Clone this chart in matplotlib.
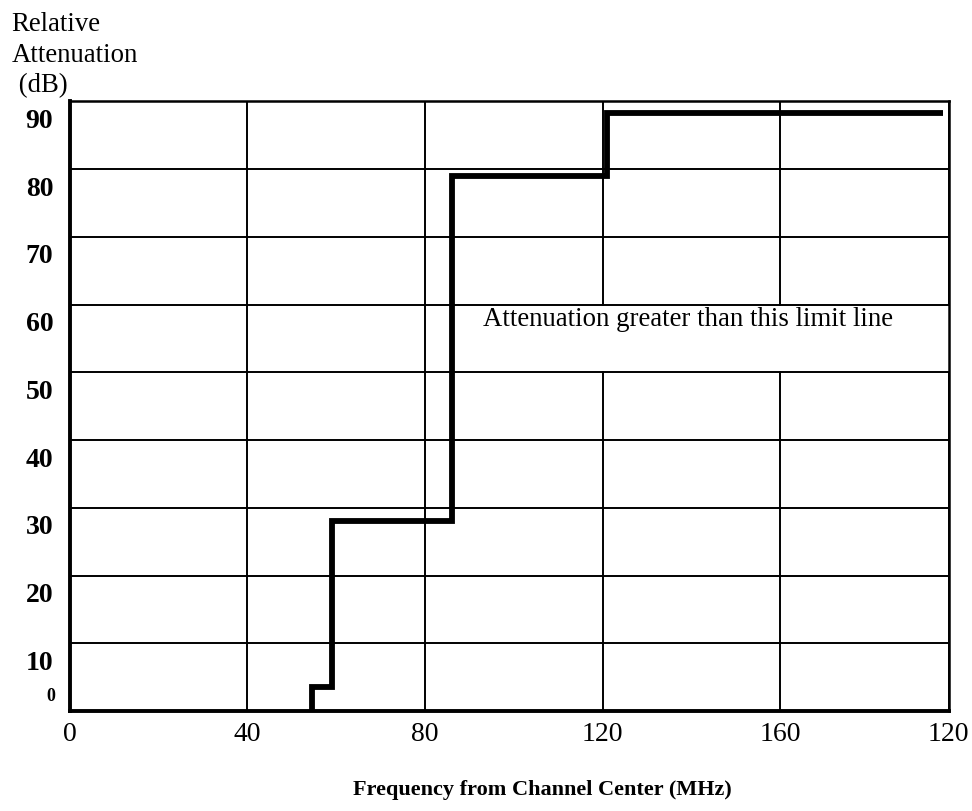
import matplotlib
matplotlib.use('Agg')
import matplotlib.pyplot as plt
import matplotlib.transforms as mtransforms

# step limit line (frequency in MHz, attenuation in dB)
freq = [54.6, 54.6, 59.1, 86.0, 121.0, 196.7]
atten = [0.0, 3.5, 28.0, 79.0, 88.3, 88.3]

x_ticks = [0, 40, 80, 120, 160, 198]
x_labels = ['0', '40', '80', '120', '160', '120']
y_ticks = [10, 20, 30, 40, 50, 60, 70, 80, 90]

plt.rcParams['font.family'] = ['Liberation Serif', 'DejaVu Serif']

fig = plt.figure(figsize=(9.72, 8.12), dpi=100)
ax = fig.add_axes([0.072, 0.123, 0.904, 0.751])

ax.plot(freq, atten, drawstyle='steps-post', color='black', lw=4.2,
        solid_joinstyle='miter', solid_capstyle='butt', zorder=3)

# white band behind the note hides the vertical grid lines there
ax.fill_between([86.5, 198], 50.25, 59.75, color='white', lw=0, zorder=2)

ax.set_xlim(0, 198)
ax.set_ylim(0, 90)
ax.set_xticks(x_ticks)
ax.set_xticklabels(x_labels, fontsize=20)
ax.set_yticks(y_ticks)
ax.set_yticklabels([str(v) for v in y_ticks], fontsize=20, fontweight='bold')
ax.tick_params(length=0)
ax.tick_params(axis='x', pad=7)
ax.tick_params(axis='y', pad=12)
ax.grid(True, color='black', lw=1.4)

# y labels sit a little below their grid lines in the original
shift = mtransforms.ScaledTranslation(0, -0.16, fig.dpi_scale_trans)
for lab in ax.get_yticklabels():
    lab.set_transform(lab.get_transform() + shift)

for side in ['top', 'right']:
    ax.spines[side].set_linewidth(1.8)
for side in ['bottom', 'left']:
    ax.spines[side].set_linewidth(2.8)

# small "0" on the y axis sits just above the bottom
ax.text(-3.3, 2.3, '0', ha='right', va='center', fontsize=13, fontweight='bold')

ax.text(93, 58.0, 'Attenuation greater than this limit line',
        fontsize=19.3, va='center', ha='left', zorder=4)

fig.text(0.012, 0.985, 'Relative\nAttenuation\n (dB)', fontsize=19.3,
         va='top', ha='left', linespacing=1.3)

fig.text(0.558, 0.027, 'Frequency from Channel Center (MHz)', fontsize=16,
         fontweight='bold', ha='center', va='center')

fig.savefig('out.png', dpi=100)
